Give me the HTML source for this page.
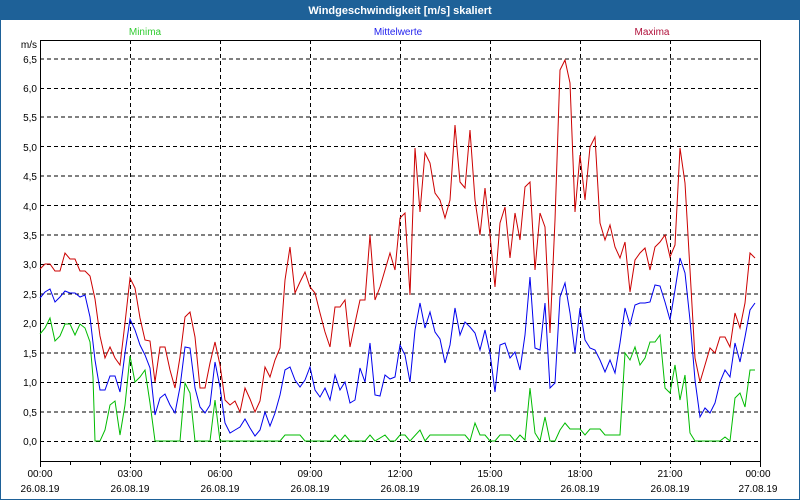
<!DOCTYPE html>
<html><head><meta charset="utf-8"><style>
html,body{margin:0;padding:0;background:#fff}
svg{display:block;font-family:"Liberation Sans",sans-serif}
</style></head><body>
<svg width="800" height="500" viewBox="0 0 800 500" xmlns="http://www.w3.org/2000/svg">
<rect x="0" y="0" width="800" height="500" fill="#1e6198"/>
<rect x="1" y="20" width="798" height="479" fill="#fff"/>
<text x="400" y="14" fill="#fff" font-size="11" font-weight="bold" text-anchor="middle">Windgeschwindigkeit [m/s] skaliert</text>
<text x="145" y="35" fill="#33cc33" font-size="10" text-anchor="middle">Minima</text>
<text x="398" y="35" fill="#2222ee" font-size="10" text-anchor="middle">Mittelwerte</text>
<text x="652" y="35" fill="#b0103a" font-size="10" text-anchor="middle">Maxima</text>
<g stroke="#000" stroke-width="1" stroke-dasharray="4,3" fill="none">
<path d="M40 441.5H760M40 412H760M40 382.5H760M40 353H760M40 323.5H760M40 294H760M40 264.5H760M40 235H760M40 205.5H760M40 176H760M40 146.5H760M40 117H760M40 88.5H760M40 59H760"/>
<path d="M130.5 40V468M220.5 40V468M310.5 40V468M400.5 40V468M490.5 40V468M580.5 40V468M670.5 40V468"/>
</g>
<g stroke="#000" stroke-width="1" fill="none">
<path d="M40.5 461V40.5H760.5V461"/>
<path d="M40 461.5H761"/>
<path d="M40.5 461V467M70.5 461V465M100.5 461V465M160.5 461V465M190.5 461V465M250.5 461V465M280.5 461V465M340.5 461V465M370.5 461V465M430.5 461V465M460.5 461V465M520.5 461V465M550.5 461V465M610.5 461V465M640.5 461V465M700.5 461V465M730.5 461V465M760.5 461V467"/>
</g>
<g font-size="10" fill="#000" text-anchor="end">
<text x="37" y="48">m/s</text>
<text x="37" y="63">6,5</text><text x="37" y="92">6,0</text><text x="37" y="121">5,5</text><text x="37" y="151">5,0</text><text x="37" y="180">4,5</text><text x="37" y="210">4,0</text><text x="37" y="239">3,5</text><text x="37" y="268">3,0</text><text x="37" y="298">2,5</text><text x="37" y="327">2,0</text><text x="37" y="357">1,5</text><text x="37" y="386">1,0</text><text x="37" y="416">0,5</text><text x="37" y="445">0,0</text>
</g>
<g font-size="10" fill="#000" text-anchor="middle">
<text x="40" y="477">00:00</text><text x="40" y="492">26.08.19</text>
<text x="130" y="477">03:00</text><text x="130" y="492">26.08.19</text>
<text x="220" y="477">06:00</text><text x="220" y="492">26.08.19</text>
<text x="310" y="477">09:00</text><text x="310" y="492">26.08.19</text>
<text x="400" y="477">12:00</text><text x="400" y="492">26.08.19</text>
<text x="490" y="477">15:00</text><text x="490" y="492">26.08.19</text>
<text x="580" y="477">18:00</text><text x="580" y="492">26.08.19</text>
<text x="670" y="477">21:00</text><text x="670" y="492">26.08.19</text>
<text x="758" y="477">00:00</text><text x="758" y="492">27.08.19</text>
</g>
<g fill="none" stroke-width="1" stroke-linejoin="miter">
<polyline stroke="#cc0000" points="40,269 45,264 50,264 55,271 60,271 65,253 70,259 75,259 80,271 85,271 90,276 95,299 100,336 105,358 110,347 115,358 120,365 125,323 130,278 135,288 140,318 145,340 150,341 155,382 160,347 165,347 170,370 175,388 180,357 185,317 190,312 195,337 200,388 205,388 210,363 215,342 220,365 225,400 230,405 235,401 240,412 245,388 250,399 255,412 260,401 265,367 270,377 275,360 280,348 285,280 290,247 295,293 300,282 305,272 310,287 315,293 320,313 325,332 330,347 335,307 340,307 345,300 350,347 355,323 360,300 365,300 370,235 375,300 380,287 385,270 390,253 395,270 400,218 405,213 410,295 415,148 420,212 425,153 430,163 435,193 440,200 445,218 450,200 455,125 460,182 465,188 470,130 475,200 480,235 485,188 490,235 495,287 500,223 505,207 510,258 515,213 520,240 525,187 530,182 535,270 540,213 545,227 550,333 555,220 560,70 565,60 570,83 575,212 580,155 585,200 590,147 595,137 600,223 605,240 610,225 615,247 620,258 625,242 630,292 635,260 640,253 645,248 650,270 655,247 660,242 665,235 670,257 675,245 680,148 685,183 690,270 695,358 700,382 705,365 710,348 715,353 720,337 725,337 730,347 735,313 740,328 745,303 750,253 755,258"/>
<polyline stroke="#0000ee" points="40,298 45,292 50,289 55,302 60,297 65,291 70,293 75,293 80,297 85,295 90,317 95,360 100,390 105,390 110,376 115,376 120,392 125,353 130,319 135,330 140,345 145,355 150,368 155,415 160,398 165,394 170,405 175,413 180,387 185,347 190,348 195,388 200,407 205,413 210,405 215,362 220,387 225,423 230,433 235,430 240,427 245,419 250,428 255,436 260,430 265,412 270,426 275,413 280,395 285,370 290,367 295,380 300,387 305,380 310,367 315,390 320,397 325,388 330,400 335,375 340,390 345,382 350,403 355,400 360,368 365,382 370,343 375,395 380,396 385,375 390,379 395,377 400,345 405,355 410,382 415,330 420,303 425,328 430,312 435,332 440,339 445,363 450,345 455,308 460,335 465,322 470,327 475,333 480,350 485,330 490,353 495,392 500,345 505,343 510,358 515,352 520,370 525,335 530,277 535,348 540,350 545,303 550,388 555,383 560,297 565,283 570,313 575,353 580,308 585,340 590,348 595,350 600,360 605,372 610,360 615,373 620,343 625,308 630,325 635,305 640,303 645,303 650,302 655,285 660,286 665,302 670,320 675,290 680,258 685,273 690,320 695,380 700,417 705,408 710,413 715,403 720,382 725,370 730,377 735,343 740,362 745,337 750,310 755,303"/>
<polyline stroke="#00bb00" points="40,334 45,328 50,318 55,341 60,336 65,324 70,324 75,335 80,324 85,328 90,342 93,377 95,441 100,441 105,430 110,405 115,401 120,435 125,405 130,356 135,382 140,377 145,370 150,403 155,441 180,441 185,383 190,393 195,441 210,441 215,400 220,441 280,441 285,435 300,435 305,441 330,441 335,435 340,441 345,435 350,441 365,441 370,435 375,441 385,435 390,441 395,441 400,435 405,435 410,441 420,430 425,441 430,435 465,435 470,441 475,423 480,435 485,435 490,441 495,441 500,435 510,435 515,441 520,435 525,440 530,388 535,433 540,441 545,417 550,441 555,441 560,430 565,423 570,429 580,429 585,435 590,429 600,429 605,435 620,435 625,353 630,360 635,347 640,365 645,358 650,342 655,342 660,335 665,388 670,393 675,365 680,400 685,375 690,433 695,441 720,441 725,437 730,441 735,398 740,393 745,407 750,370 755,370"/>
</g>
</svg>
</body></html>
